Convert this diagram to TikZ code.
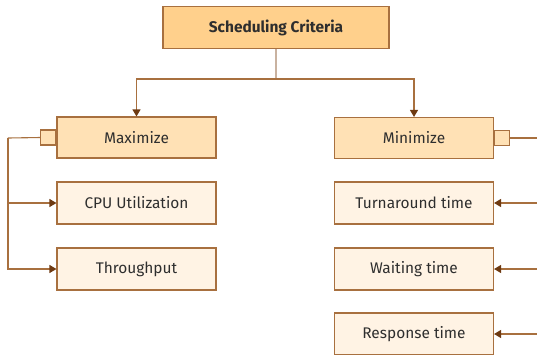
\documentclass[tikz,border=0pt]{standalone}
\usepackage{fontspec}
\setmainfont{Fira Sans}
\usetikzlibrary{arrows.meta}
\definecolor{edgebrown}{HTML}{A8703F}
\definecolor{tipbrown}{HTML}{6E3A12}
\definecolor{rootfill}{HTML}{FFD08C}
\definecolor{groupfill}{HTML}{FFE1B5}
\definecolor{leaffill}{HTML}{FFF3E4}
\definecolor{stemgray}{HTML}{C9B2A0}
\definecolor{inkgray}{HTML}{2E2E2E}
\tikzset{
  box/.style={draw=edgebrown, line width=1.1bp, inner sep=0pt, text=inkgray,
    font=\fontsize{15.5}{18}\selectfont},
  rootbox/.style={box, fill=rootfill, minimum width=226bp, minimum height=42bp,
    font=\fontsize{15.5}{18}\selectfont\bfseries},
  groupbox/.style={box, fill=groupfill, minimum width=159bp, minimum height=41bp},
  leafbox/.style={box, fill=leaffill, minimum width=159bp, minimum height=42bp},
  tab/.style={draw=edgebrown, line width=1.1bp, fill=groupfill, inner sep=0pt,
    minimum width=15bp, minimum height=15bp},
  link/.style={draw=edgebrown, line width=1.1bp},
  arrowlink/.style={link, arrows={-{Triangle[width=8bp,length=7bp,color=tipbrown]}}},
}
\begin{document}
\begin{tikzpicture}[x=1bp, y=-1bp]
  \useasboundingbox (0,0) rectangle (537,354);
  \clip (0,0) rectangle (537,354);

  % root and the two groups
  \node[rootbox] (root) at (276,27.5) {Scheduling Criteria};
  \node[groupbox] (max) at (136.5,137.5) {Maximize};
  \node[groupbox] (min) at (414,138) {Minimize};

  % leaves
  \node[leafbox] (cpu) at (136.5,203) {CPU Utilization};
  \node[leafbox] (thr) at (136.5,269) {Throughput};
  \node[leafbox] (turn) at (414,203) {Turnaround time};
  \node[leafbox] (wait) at (414,269) {Waiting time};
  \node[leafbox] (resp) at (414,334) {Response time};

  % side tabs
  \node[tab, anchor=east] (maxtab) at (max.west) {};
  \node[tab, anchor=west] (mintab) at (min.east) {};

  % root to groups
  \coordinate (fork) at (276,79);
  \draw[draw=stemgray, line width=1.1bp] (root.south) -- (fork);
  \draw[arrowlink] (fork) -| (max.north);
  \draw[arrowlink] (fork) -| (min.north);

  % maximize branch
  \coordinate (lrail) at (8,138);
  \draw[link] (maxtab.west) -- (lrail);
  \draw[arrowlink] (lrail) |- (cpu.west);
  \draw[arrowlink] (lrail) |- (thr.west);

  % minimize branch
  \coordinate (rrail) at (548,138);
  \draw[link] (mintab.east) -- (rrail);
  \draw[arrowlink] (rrail) |- (turn.east);
  \draw[arrowlink] (rrail) |- (wait.east);
  \draw[arrowlink] (rrail) |- (resp.east);
\end{tikzpicture}
\end{document}
